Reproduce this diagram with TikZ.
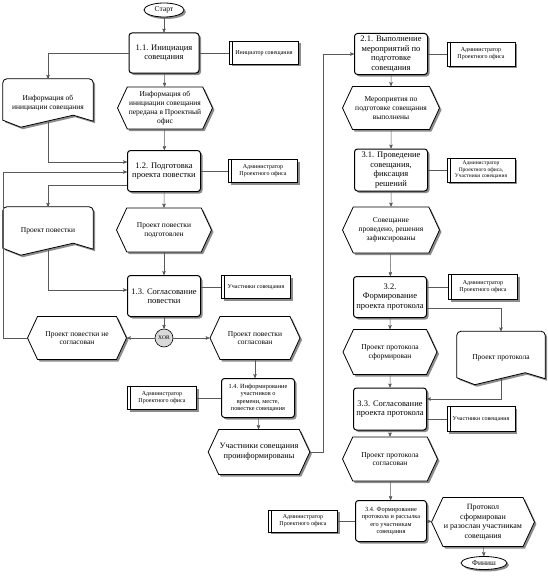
\documentclass[tikz,border=0pt]{standalone}
\usepackage{fontspec}
\setmainfont{Liberation Serif}
\usetikzlibrary{arrows,calc,shapes.symbols,shapes.geometric,shadows,backgrounds}

\begin{document}
\begin{tikzpicture}
[
	              x = 1pt, y = -1pt,
	           ->, >= stealth',
	  shade/.style = { drop shadow={shadow xshift=2pt, shadow yshift=-2pt, fill=black!45, opacity=1} },
	   func/.style = { draw=black, line width=1pt, rounded corners=3pt, fill=white, shade, align=center, inner sep=1pt,
	                   minimum width=73pt, minimum height=41pt, font=\fontsize{8.5}{9.5}\selectfont },
	  smallfunc/.style = { func, font=\fontsize{6.3}{7.5}\selectfont },
	  event/.style = { draw=black, line width=0.8pt, fill=white, shade, signal, signal to=west and east,
	                   signal pointer angle=130, align=center, inner sep=1pt, minimum width=95pt,
	                   minimum height=44pt, font=\fontsize{7.5}{8.8}\selectfont },
	    org/.style = { draw=black, line width=0.8pt, fill=white, shade, align=center, inner sep=1pt,
	                   minimum width=69pt, minimum height=23pt, font=\fontsize{6}{7}\selectfont,
	                   path picture={\draw [-, line width=0.8pt] ([xshift=3pt]path picture bounding box.north west)
	                   -- ([xshift=3pt]path picture bounding box.south west);} },
	    doc/.style = { draw=none, align=center, minimum width=90pt, minimum height=48pt,
	                   font=\fontsize{7.5}{8.8}\selectfont },
	docline/.style = { -, draw=black, line width=0.8pt, fill=white, shade },
	   term/.style = { draw=black, line width=0.8pt, fill=white, shade, ellipse, inner sep=0pt,
	                   minimum width=40pt, minimum height=14pt, font=\fontsize{7.5}{8.5}\selectfont },
	    xor/.style = { draw=black, line width=0.6pt, fill=black!15, circle, inner sep=0pt,
	                   minimum size=18pt, font=\fontsize{5.5}{6}\selectfont },
	   flow/.style = { ->, draw=black!65, line width=0.5pt },
	   link/.style = { -, draw=black!65, line width=0.5pt }
]
	\useasboundingbox (0,0) rectangle (548,578);

	% 1. preparation of the agenda
	\node (start) at (164,10)  [term]   {Старт};
	\node (f11)   at (164,53)  [func, minimum width=70pt, minimum height=40pt] {1.1. Инициация\\совещания};
	\node (o11)   at (264,53)  [org]    {Инициатор совещания};
	\node (doc1)  at (48,103)  [doc]    {Информация об\\инициации совещания};
	\node (e11)   at (165,108) [event, minimum height=42pt] {Информация об\\инициации совещания\\передана в Проектный\\офис};

	\node (f12)   at (164,171) [func]   {1.2. Подготовка\\проекта повестки};
	\node (o12)   at (263,171) [org]    {Администратор\\Проектного офиса};
	\node (doc2)  at (48,231)  [doc]    {Проект повестки};
	\node (e12)   at (164,230) [event]  {Проект повестки\\подготовлен};

	\node (f13)   at (164,296) [func]   {1.3. Согласование\\повестки};
	\node (o13)   at (256,287) [org]    {Участники совещания};
	\node (xor)   at (164,338) [xor]    {XOR};
	\node (e13n)  at (77,338)  [event, minimum width=99pt, minimum height=43pt] {Проект повестки не\\согласован};
	\node (e13y)  at (255,338) [event, minimum width=90pt, minimum height=43pt] {Проект повестки\\согласован};

	\node (f14)   at (258,398) [smallfunc, minimum height=39pt] {1.4. Информирование\\участников о\\времени, месте,\\повестке совещания};
	\node (o14)   at (162,398) [org]    {Администратор\\Проектного офиса};
	\node (e14)   at (259,452) [event, minimum height=45pt, font=\fontsize{8.3}{9.8}\selectfont] {Участники совещания\\проинформированы};

	% 2. and 3. the meeting and its protocol
	\node (f21)   at (391,54)  [func]   {2.1. Выполнение\\мероприятий по\\подготовке\\совещания};
	\node (o21)   at (481,54)  [org, minimum width=68pt, minimum height=24pt] {Администратор\\Проектного офиса};
	\node (e21)   at (391,108) [event, minimum width=97pt, minimum height=43pt] {Мероприятия по\\подготовке совещания\\выполнены};

	\node (f31)   at (391,170) [func, minimum height=42pt] {3.1. Проведение\\совещания,\\фиксация\\решений};
	\node (o31)   at (481,170) [org, minimum width=68pt, minimum height=24pt, font=\fontsize{5.5}{6.5}\selectfont] {Администратор\\Проектного офиса,\\Участники совещания};
	\node (e31)   at (391,230) [event, minimum width=97pt, minimum height=46pt] {Совещание\\проведено, решения\\зафиксированы};

	\node (f32)   at (390,297) [func]   {3.2.\\Формирование\\проекта протокола};
	\node (o32)   at (483,287) [org, minimum height=25pt] {Администратор\\Проектного офиса};
	\node (doc3)  at (501,358) [doc, minimum width=88pt, minimum height=53pt] {Проект протокола};
	\node (e32)   at (390,352) [event, minimum width=94pt, minimum height=45pt] {Проект протокола\\сформирован};

	\node (f33)   at (390,409) [func, minimum height=42pt] {3.3. Согласование\\проекта протокола};
	\node (o33)   at (481,419) [org, minimum width=68pt, minimum height=25pt] {Участники совещания};
	\node (e33)   at (390,459) [event]  {Проект протокола\\согласован};

	\node (f34)   at (391,521) [smallfunc, minimum width=71pt] {3.4. Формирование\\протокола и рассылка\\его участникам\\совещания};
	\node (o34)   at (303,521) [org, minimum height=22pt] {Администратор\\Проектного офиса};
	\node (e34)   at (483,522) [event, minimum height=49pt, font=\fontsize{8}{9.5}\selectfont] {Протокол\\сформирован\\и разослан участникам\\совещания};
	\node (fin)   at (484,563) [term, minimum width=46pt, minimum height=13pt] {Финиш};

	% document outlines
	\begin{scope}[on background layer]
		\foreach \d in {doc1,doc2,doc3}
			\draw [docline] ([yshift=7pt]\d.south west) [rounded corners=4pt] -- (\d.north west) -- (\d.north east)
				[sharp corners] -- ([yshift=6pt]\d.south east) -- ([xshift=-20pt,yshift=12pt]\d.south east)
				-- ([xshift=18pt]\d.south west) -- cycle;
	\end{scope}

	% flow of the first part
	\draw [flow] (start) -- (f11);
	\draw [link] (f11) -- (o11);
	\draw [flow] (f11.west) -| (doc1.north);
	\draw [flow] (f11) -- (e11);
	\draw [flow] (e11) -- (f12);
	\draw [flow] ([yshift=6pt]doc1.south) |- ([yshift=9pt]f12.west);
	\draw [link] (f12) -- (o12);
	\draw [flow] ([yshift=-14pt]f12.west) -| (doc2.north);
	\draw [flow] (f12) -- (e12);
	\draw [flow] (e12) -- (f13);
	\draw [flow] ([yshift=6pt]doc2.south) |- ([yshift=6pt]f13.west);
	\draw [link] (f13.east |- o13) -- (o13);
	\draw [flow] (f13) -- (xor);
	\draw [flow] (xor) -- (e13n);
	\draw [flow] (xor) -- (e13y);
	\draw [flow] (e13n.west) -- (e13n.west -| doc2.west) |- ([yshift=-1pt]f12.west);
	\draw [flow] (e13y) -- (e13y |- f14.north);
	\draw [link] (f14) -- (o14);
	\draw [flow] (f14) -- (e14);
	\draw [flow] (e14.east) -- ++(13,0) |- (f21.west);

	% flow of the second part
	\draw [link] (f21) -- (o21);
	\draw [flow] (f21) -- (e21);
	\draw [flow] (e21) -- (f31);
	\draw [link] (f31) -- (o31);
	\draw [flow] (f31) -- (e31);
	\draw [flow] (e31) -- (f32);
	\draw [link] (f32.east |- o32) -- (o32);
	\draw [flow] ([yshift=-11pt]f32.east) -| (doc3.north);
	\draw [flow] (f32) -- (e32);
	\draw [flow] (e32) -- (f33);
	\draw [flow] ([yshift=6pt]doc3.south) |- ([yshift=10pt]f33.east);
	\draw [link] (f33.east |- o33) -- (o33);
	\draw [flow] (f33) -- (e33);
	\draw [flow] (e33) -- (f34);
	\draw [link] (f34) -- (o34);
	\draw [flow] (f34) -- (e34);
	\draw [flow] (e34) -- (fin);

\end{tikzpicture}
\end{document}
